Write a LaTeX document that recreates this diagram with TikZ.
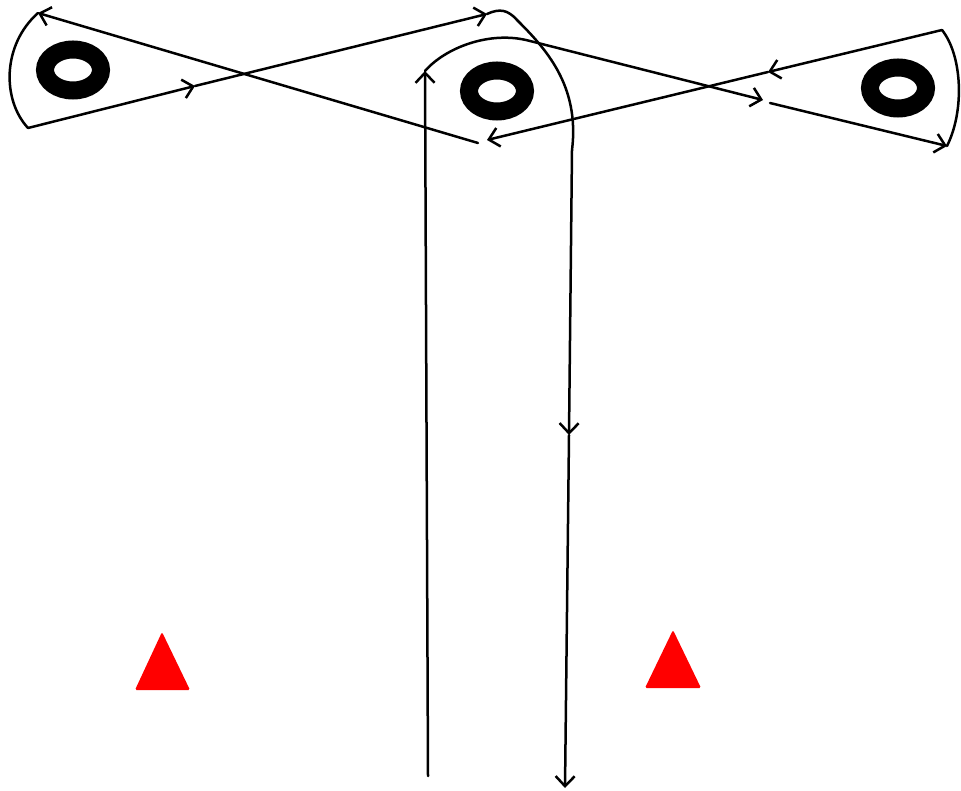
\documentclass[tikz,border=0pt]{standalone}
\usetikzlibrary{shapes.geometric,arrows.meta}

\tikzset{%
  every ring/.style={
    ellipse,
    draw=black,
    line width=18pt,
    minimum width=56pt,
    minimum height=41pt,
    inner sep=0pt
  },
  every marker/.style={
    fill=red,
    rounded corners=1.5pt
  },
}

\begin{document}
\begin{tikzpicture}[x=1pt,y=-1pt,line width=2.5pt,line cap=round,>={Straight Barb[length=10pt,width=19pt]}]%[ultra thick]
  \useasboundingbox (0,0) rectangle (961,791);
  \node [every ring] (r-1) at ( 73 ,70) { } ;
  \node [every ring] (r-2) at ( 497 ,91) { } ;
  \node [every ring] (r-3) at ( 898 ,88) { } ;
  \coordinate (p-1) at ( 478 ,143) ;
  \coordinate (p-2) at ( 38 ,13) ;
  \coordinate (p-3) at ( 28 ,128) ;
  \coordinate (p-4) at ( 195 ,86) ;
  \coordinate (p-5) at ( 487 ,14) ;
  \coordinate (p-6) at ( 572 ,150) ;
  \coordinate (p-7) at ( 569 ,435) ;
  \coordinate (p-8) at ( 565 ,788) ;
  \coordinate (q-1) at ( 428 ,776) ;
  \coordinate (q-2) at ( 425 ,71) ;
  \coordinate (q-3) at ( 530 ,41) ;
  \coordinate (q-4) at ( 763 ,100) ;
  \coordinate (q-5) at ( 770 ,103) ;
  \coordinate (q-6) at ( 947 ,146) ;
  \coordinate (q-7) at ( 942 ,30) ;
  \coordinate (q-8) at ( 768 ,72) ;
  \coordinate (q-9) at ( 487 ,140) ;
%
\draw [->] (p-1) -- (p-2);
\draw (p-2) .. controls (2,45) and (2,100) .. (p-3);
\draw [->] (p-3) -- (p-4);
\draw [->] (p-4) -- (p-5);
\draw (p-5) .. controls (500,8) and (508,10) .. (517,20) .. controls (545,48) and (580,85) .. (p-6);
\draw [->] (p-6) -- (p-7);
\draw [->] (p-7) -- (p-8);
%
\draw [->] (q-1) -- (q-2);
\draw (q-2) .. controls (445,48) and (490,30) .. (q-3);
\draw [->] (q-3) -- (q-4);
\draw [->] (q-5) -- (q-6);
\draw (q-6) .. controls (965,110) and (962,55) .. (q-7);
\draw [->] (q-7) -- (q-8);
\draw [->] (q-8) -- (q-9);
%
\fill [every marker] (135,690) -- (162,632) -- (190,690) -- cycle;
\fill [every marker] (645,688) -- (673,630) -- (701,688) -- cycle;
\end{tikzpicture}
\end{document}
